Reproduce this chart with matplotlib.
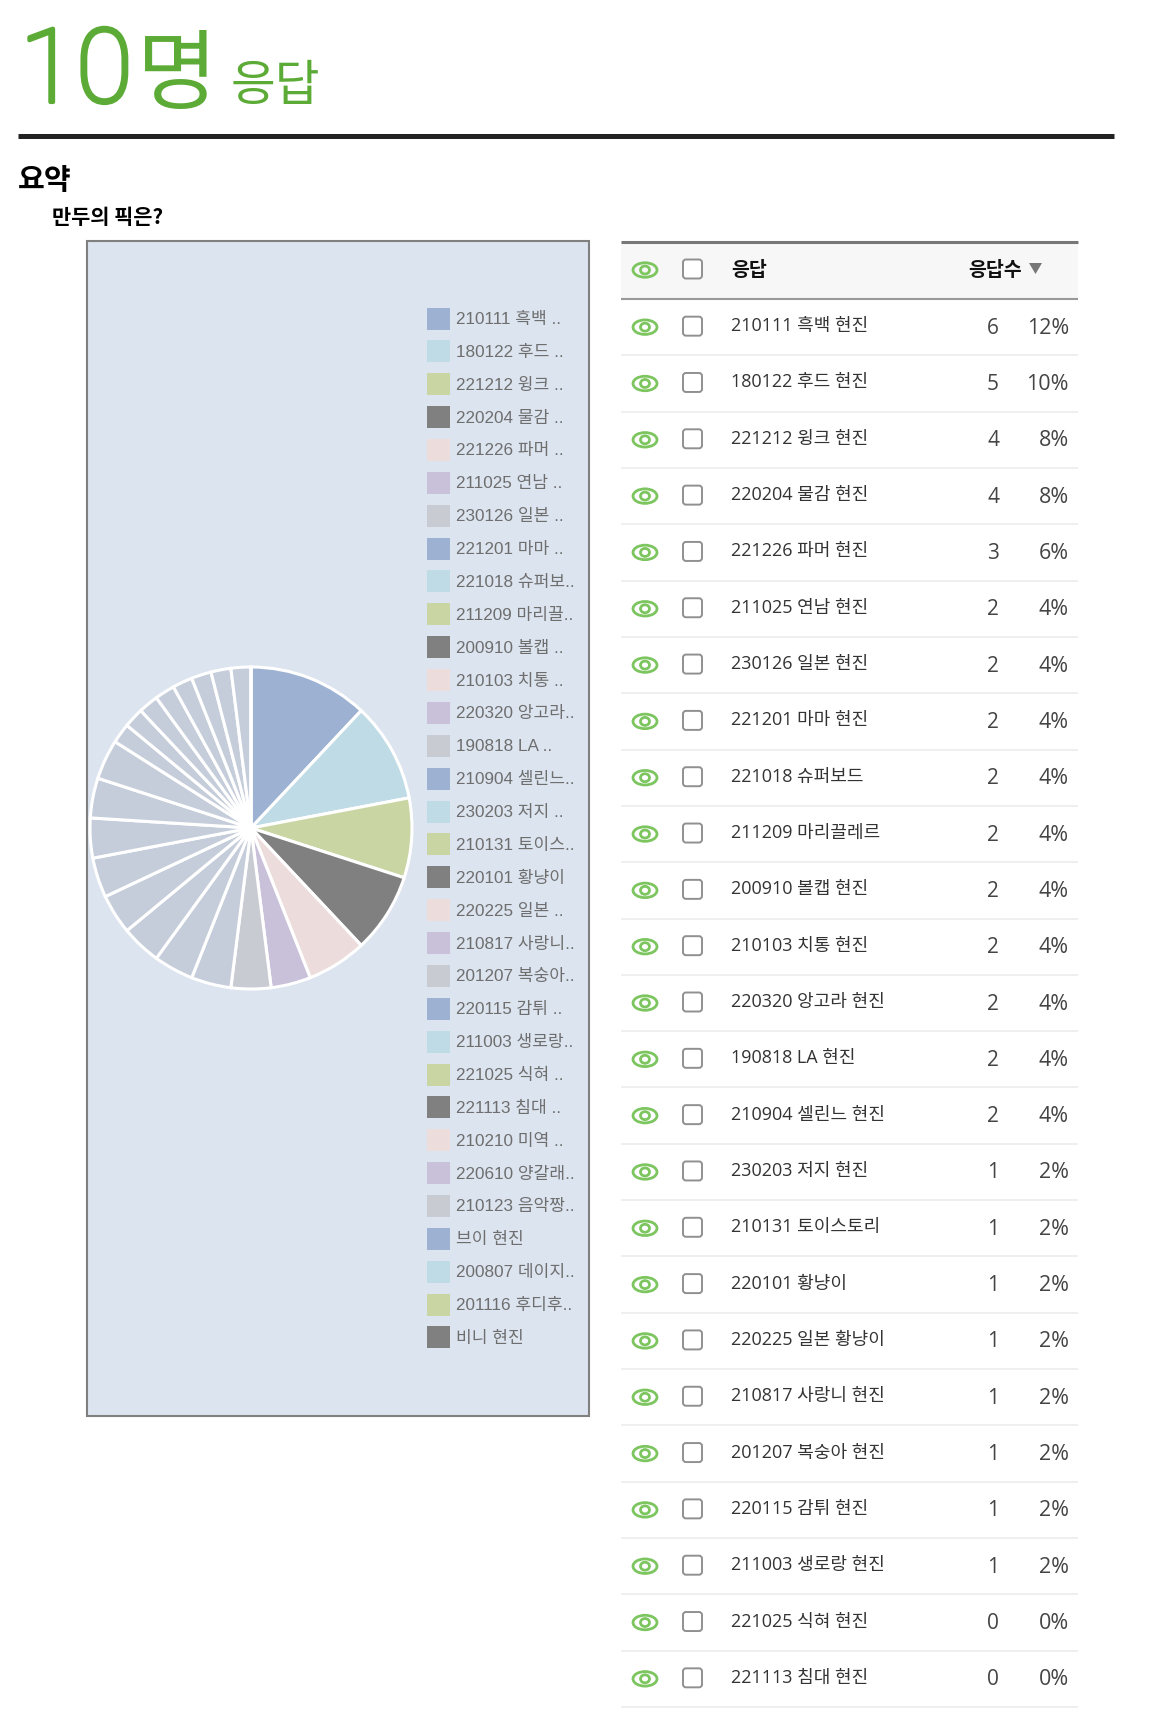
#!/usr/bin/env python3
# -*- coding: utf-8 -*-
import matplotlib
matplotlib.use("Agg")
import matplotlib.pyplot as plt
import matplotlib.patheffects as pe
from matplotlib.patches import Ellipse, FancyBboxPatch, Polygon, Rectangle

plt.rcParams['font.family'] = ['Noto Sans CJK KR', 'DejaVu Sans']

W, H = 1170, 1718

# table rows
answers = ['210111 흑백 현진', '180122 후드 현진', '221212 윙크 현진', '220204 물감 현진',
           '221226 파머 현진', '211025 연남 현진', '230126 일본 현진', '221201 마마 현진',
           '221018 슈퍼보드', '211209 마리끌레르', '200910 볼캡 현진', '210103 치통 현진',
           '220320 앙고라 현진', '190818 LA 현진', '210904 셀린느 현진', '230203 저지 현진',
           '210131 토이스토리', '220101 황냥이', '220225 일본 황냥이', '210817 사랑니 현진',
           '201207 복숭아 현진', '220115 감튀 현진', '211003 생로랑 현진', '221025 식혀 현진',
           '221113 침대 현진']
counts = [6, 5, 4, 4, 3, 2, 2, 2, 2, 2, 2, 2, 2, 2, 2, 1, 1, 1, 1, 1, 1, 1, 1, 0, 0]
percents = [12, 10, 8, 8, 6, 4, 4, 4, 4, 4, 4, 4, 4, 4, 4, 2, 2, 2, 2, 2, 2, 2, 2, 0, 0]

# the first seven slices keep their colour, the others are faded
pie_colors = ['#9db2d3', '#bfdbe6', '#c9d6a3', '#808080', '#eddcdc', '#c9c1d9', '#c8cbd2']
pie_rest = '#c5cdda'

legend_labels = ['210111 흑백 ..', '180122 후드 ..', '221212 윙크 ..', '220204 물감 ..',
                 '221226 파머 ..', '211025 연남 ..', '230126 일본 ..', '221201 마마 ..',
                 '221018 슈퍼보..', '211209 마리끌..', '200910 볼캡 ..', '210103 치통 ..',
                 '220320 앙고라..', '190818 LA ..', '210904 셀린느..', '230203 저지 ..',
                 '210131 토이스..', '220101 황냥이', '220225 일본 ..', '210817 사랑니..',
                 '201207 복숭아..', '220115 감튀 ..', '211003 생로랑..', '221025 식혀 ..',
                 '221113 침대 ..', '210210 미역 ..', '220610 양갈래..', '210123 음악짱..',
                 '브이 현진', '200807 데이지..', '201116 후디후..', '비니 현진']
legend_colors = ['#9db2d3', '#bfdbe6', '#c9d6a3', '#808080', '#eddcdc', '#c9c1d9', '#c8cbd2']

GREEN = '#5bab36'
EYE = '#7cc55f'
KR = 'Noto Sans CJK KR'

fig = plt.figure(figsize=(W / 100, H / 100), dpi=100)
ax = fig.add_axes([0, 0, 1, 1])
ax.set_xlim(0, W)
ax.set_ylim(H, 0)
ax.axis('off')

# heading, the light digits get a small stroke to reach the weight of the original
ax.text(20, 102, '10', fontsize=74, color=GREEN, family=['Roboto', KR], weight='light', va='baseline',
        path_effects=[pe.withStroke(linewidth=3, foreground=GREEN)])
ax.text(137, 102, '명', fontsize=63, color=GREEN, weight='light', va='baseline')
ax.text(231, 100, '응답', fontsize=35, color=GREEN, weight='light', va='baseline')
ax.plot([18, 1114], [136, 136], color='#222222', lw=3.6, solid_capstyle='butt')
ax.text(18, 180, '요약', fontsize=21, color='black', weight='bold', va='center')
ax.text(52, 217, '만두의 픽은?', fontsize=15, color='black', weight='bold', va='center')

# chart box
ax.add_patch(Rectangle((87, 241), 502, 1175, facecolor='#dce4ef', edgecolor='#808080', lw=1.5))

pie_ax = fig.add_axes([(251 - 165) / W, 1 - (828 + 165) / H, 330 / W, 330 / H])
pie_ax.pie(counts,
           colors=pie_colors + [pie_rest] * (len(counts) - len(pie_colors)),
           startangle=90, counterclock=False, radius=1,
           wedgeprops={'edgecolor': 'white', 'linewidth': 2.2})
pie_ax.set_xlim(-165 / 161, 165 / 161)
pie_ax.set_ylim(-165 / 161, 165 / 161)

# legend
for i, label in enumerate(legend_labels):
    y = 318.5 + i * 32.87
    ax.add_patch(Rectangle((427, y - 11), 23, 22, facecolor=legend_colors[i % 7], edgecolor='none'))
    ax.text(456, y + 1, label, fontsize=12.3, color='#6e6e6e', va='center', family=['Liberation Sans', KR])


def eye(y):
    ax.add_patch(Ellipse((645, y), 24, 14.5, facecolor='none', edgecolor=EYE, lw=2))
    ax.add_patch(Ellipse((645, y), 9, 8, facecolor='none', edgecolor=EYE, lw=2))


def checkbox(y):
    ax.add_patch(FancyBboxPatch((683, y - 10.5), 19, 19, boxstyle='round,pad=0,rounding_size=3',
                                facecolor='white', edgecolor='#909090', lw=1.4))


# table head
ax.add_patch(Rectangle((621, 241), 457, 58, facecolor='#f7f7f7', edgecolor='none'))
ax.plot([621, 1078], [241.5, 241.5], color='#777777', lw=2.2, solid_capstyle='butt')
ax.plot([621, 1078], [299, 299], color='#999999', lw=1.5, solid_capstyle='butt')
eye(270)
checkbox(270)
ax.text(731, 271, '응답', fontsize=14, color='#111111', weight='bold', va='center')
ax.text(1022, 271, '응답수', fontsize=14, color='#111111', weight='bold', va='center', ha='right')
ax.add_patch(Polygon([[1029, 263], [1042, 263], [1035.5, 274]], closed=True, facecolor='#777777', edgecolor='none'))

# table rows
row_h = (1707 - 299) / 25
for i, (name, n, pct) in enumerate(zip(answers, counts, percents)):
    top = 299 + i * row_h
    mid = top + row_h / 2
    eye(mid)
    checkbox(mid)
    ax.text(731, mid - 1, name, fontsize=13, color='#333333', va='center', family=['Open Sans', KR])
    ax.text(999, mid + 1, str(n), fontsize=15, color='#444444', va='center', ha='right', family='Open Sans')
    ax.text(1069, mid + 1, '%d%%' % pct, fontsize=15.5, color='#444444', va='center', ha='right', family='Open Sans')
    ax.plot([621, 1078], [top + row_h, top + row_h], color='#eeeeee', lw=1.3, solid_capstyle='butt')

fig.savefig('out.png', dpi=100, facecolor='white')
